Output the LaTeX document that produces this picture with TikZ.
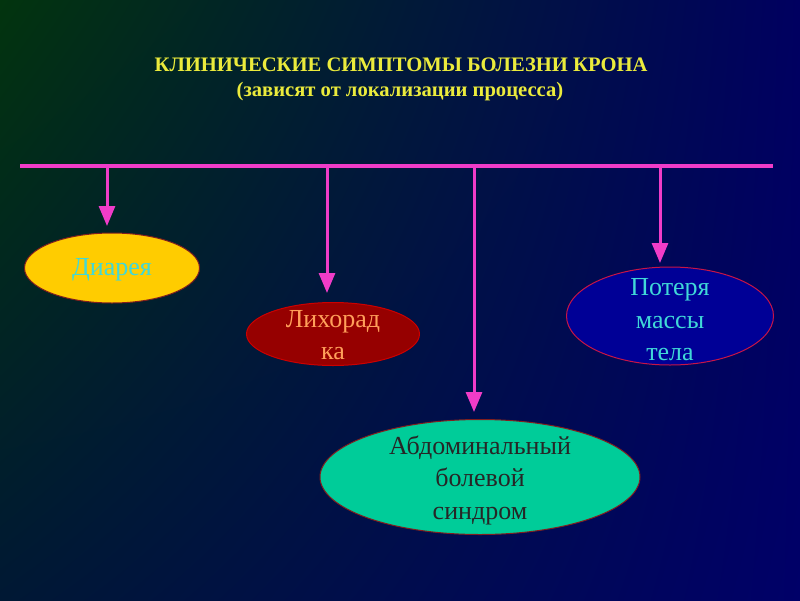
\documentclass[tikz,border=0pt]{standalone}
\usepackage{fontspec}
\setmainfont{Liberation Serif}
\usetikzlibrary{shapes.geometric,arrows.meta,shadings}
\definecolor{bgTL}{RGB}{2,52,14}
\definecolor{bgTR}{RGB}{0,0,96}
\definecolor{bgBL}{RGB}{0,24,52}
\definecolor{bgBR}{RGB}{0,0,104}
\definecolor{titleyellow}{RGB}{235,235,60}
\definecolor{barpink}{RGB}{240,60,200}
\definecolor{yellowfill}{RGB}{255,204,0}
\definecolor{cyantext}{RGB}{64,216,216}
\definecolor{redfill}{RGB}{150,0,0}
\definecolor{orangetext}{RGB}{255,160,90}
\definecolor{navyfill}{RGB}{0,0,150}
\definecolor{crimson}{RGB}{200,20,70}
\definecolor{tealfill}{RGB}{0,204,153}
\definecolor{darkedge}{RGB}{130,30,30}
\begin{document}
\begin{tikzpicture}[x=1pt,y=-1pt,
  sympt/.style={ellipse,inner sep=0pt,draw,line width=1pt},
  symtext/.style={align=center,inner sep=0pt,font=\fontsize{26}{32.5}\selectfont},
  bar/.style={barpink,line width=4pt},
  drop/.style={barpink,line width=3pt,-{Triangle[width=16pt,length=20pt]}},
  titletext/.style={text=titleyellow,font=\bfseries\fontsize{20.6}{24}\selectfont}]
\useasboundingbox (0,0) rectangle (800,600);
\shade[upper left=bgTL,upper right=bgTR,lower left=bgBL,lower right=bgBR] (0,0) rectangle (800,600);
\node[titletext] (title) at (401,65) {КЛИНИЧЕСКИЕ СИМПТОМЫ БОЛЕЗНИ КРОНА};
\node[titletext] (subtitle) at (400,92) {(зависят от локализации процесса)};
% bar
\coordinate (barL) at (20,166);
\coordinate (barR) at (773,166);
\draw[bar] (barL) -- (barR);
% ellipses
\node[sympt,fill=yellowfill,draw=darkedge,minimum width=175pt,minimum height=70pt] (diar) at (112,268) {};
\node[symtext,text=cyantext] (diarT) at (112,270) {Диарея};
\node[sympt,fill=redfill,draw=red!80!black,minimum width=173pt,minimum height=63pt] (fever) at (333,334) {};
\node[symtext,text=orangetext] (feverT) at (333,335) {Лихорад\\ка};
\node[sympt,fill=navyfill,draw=crimson,minimum width=207pt,minimum height=98pt] (weight) at (670,316) {};
\node[symtext,text=cyantext] (weightT) at (670,320) {Потеря\\массы\\ тела};
\node[sympt,fill=tealfill,draw=darkedge,minimum width=320pt,minimum height=115pt] (abd) at (480,477) {};
\node[symtext,text=black!85] (abdT) at (480,480) {Абдоминальный\\болевой\\синдром};
% arrows
\coordinate (b1) at (107,166);
\coordinate (b2) at (327,166);
\coordinate (b3) at (474,166);
\coordinate (b4) at (660,166);
\coordinate (t1) at (107,226);
\coordinate (t2) at (327,293);
\coordinate (t3) at (474,412);
\coordinate (t4) at (660,263);
\draw[drop] (b1) -- (t1);
\draw[drop] (b2) -- (t2);
\draw[drop] (b3) -- (t3);
\draw[drop] (b4) -- (t4);
\end{tikzpicture}
\end{document}
